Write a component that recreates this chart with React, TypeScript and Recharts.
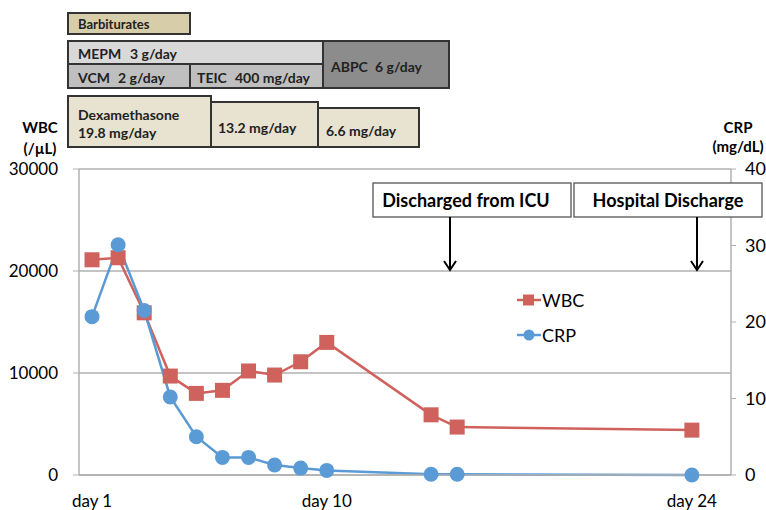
import React from 'react';
import { ComposedChart, Line, XAxis, YAxis, CartesianGrid, Legend } from 'recharts';

const days = [1, 2, 3, 4, 5, 6, 7, 8, 9, 10, 14, 15, 24];
const wbcValues = [21100, 21300, 15900, 9700, 8000, 8300, 10200, 9800, 11100, 13000, 5900, 4700, 4400];
const crpValues = [20.7, 30.1, 21.5, 10.2, 5.0, 2.3, 2.3, 1.3, 0.9, 0.6, 0.1, 0.1, 0.0];
const xTicks = [1, 10, 24];
const wbcTicks = [0, 10000, 20000, 30000];
const crpTicks = [0, 10, 20, 30, 40];
const legendOrder = ['WBC', 'CRP'];

const rows = days.map((d, i) => ({ day: d, WBC: wbcValues[i], CRP: crpValues[i] }));

const RED = '#CF625C';
const BLUE = '#5B9BD5';
const FONT = "Lato, 'Open Sans', sans-serif";
const GRID = '#b0b0b0';

const SquareDot = (props: any) => {
  const { cx, cy } = props;
  if (cx == null || cy == null) return null;
  return <rect x={cx - 7.5} y={cy - 7.5} width={15} height={15} fill={RED} />;
};
const CircleDot = (props: any) => {
  const { cx, cy } = props;
  if (cx == null || cy == null) return null;
  return <circle cx={cx} cy={cy} r={7.5} fill={BLUE} />;
};

const renderLegend = (props: any) => {
  const payload = [...(props.payload || [])].sort(
    (a: any, b: any) => legendOrder.indexOf(a.value) - legendOrder.indexOf(b.value)
  );
  return (
    <div style={{ display: 'flex', flexDirection: 'column', gap: 13 }}>
      {payload.map((p: any) => (
        <div key={p.value} style={{ display: 'flex', alignItems: 'center', height: 22 }}>
          <svg width={24} height={16}>
            <line x1={0} y1={8} x2={24} y2={8} stroke={p.color} strokeWidth={2.5} />
            {p.value === 'WBC' ? (
              <rect x={6} y={2.5} width={11} height={11} fill={p.color} />
            ) : (
              <circle cx={12} cy={8} r={5.5} fill={p.color} />
            )}
          </svg>
          <span style={{ fontFamily: FONT, fontSize: 18, color: '#000', marginLeft: 1 }}>{p.value}</span>
        </div>
      ))}
    </div>
  );
};

const Box = ({ x, y, w, h, fill }: any) => (
  <rect x={x} y={y} width={w} height={h} fill={fill} stroke="#333" strokeWidth={2} />
);
const T = ({ x, y, children, size = 14 }: any) => (
  <text x={x} y={y} fontFamily={FONT} fontWeight={700} fontSize={size} fill="#222" dominantBaseline="central">
    {children}
  </text>
);
const Arrow = ({ x, y1, y2 }: any) => (
  <g stroke="#000" strokeWidth={2} fill="none">
    <line x1={x} y1={y1} x2={x} y2={y2} />
    <polyline points={`${x - 6},${y2 - 9} ${x},${y2} ${x + 6},${y2 - 9}`} />
  </g>
);

export default function App() {
  return (
    <div style={{ position: 'absolute', left: 0, top: 0, width: 766, height: 510, background: '#fff' }}>
      <div style={{ position: 'absolute', left: 0, top: 0 }}>
        <ComposedChart width={766} height={510} data={rows} margin={{ top: 169, right: 0, bottom: 0, left: 0 }}>
          <CartesianGrid yAxisId="l" vertical={false} stroke={GRID} strokeWidth={1.3} />
          <XAxis
            dataKey="day"
            type="number"
            domain={[0.5, 25.5]}
            ticks={xTicks}
            interval={0}
            tickFormatter={(d: number) => `day ${d}`}
            height={35}
            tickLine={false}
            tickMargin={14}
            axisLine={{ stroke: GRID, strokeWidth: 1.5 }}
            tick={{ fontSize: 17, fill: '#000', fontFamily: FONT }}
          />
          <YAxis
            yAxisId="l"
            orientation="left"
            width={79}
            domain={[0, 30000]}
            ticks={wbcTicks}
            interval={0}
            tickSize={6}
            tickMargin={15}
            tickLine={{ stroke: GRID }}
            axisLine={{ stroke: GRID, strokeWidth: 1.5 }}
            tick={{ fontSize: 17, fill: '#000', fontFamily: FONT }}
          />
          <YAxis
            yAxisId="r"
            orientation="right"
            width={35}
            domain={[0, 40]}
            ticks={crpTicks}
            interval={0}
            tickSize={5}
            tickMargin={9}
            tickLine={{ stroke: GRID }}
            axisLine={{ stroke: GRID, strokeWidth: 1.5 }}
            tick={{ fontSize: 18, fill: '#000', fontFamily: FONT, textAnchor: 'start' }}
          />
          <Legend
            layout="vertical"
            align="center"
            verticalAlign="middle"
            content={renderLegend}
            wrapperStyle={{ left: 517, top: 289, width: 110 }}
          />
          <Line
            yAxisId="l"
            dataKey="WBC"
            stroke={RED}
            strokeWidth={2.5}
            dot={<SquareDot />}
            activeDot={false}
            isAnimationActive={false}
          />
          <Line
            yAxisId="r"
            dataKey="CRP"
            stroke={BLUE}
            strokeWidth={2.5}
            dot={<CircleDot />}
            activeDot={false}
            isAnimationActive={false}
          />
        </ComposedChart>
      </div>
      <svg
        width={766}
        height={510}
        style={{ position: 'absolute', left: 0, top: 0, pointerEvents: 'none' }}
      >
        <Box x={68} y={13} w={122} h={21} fill="#D7CDA9" />
        <T x={78} y={24} size={13}>Barbiturates</T>

        <Box x={68} y={41} w={255} h={23} fill="#D9D9D9" />
        <Box x={68} y={64} w={122} h={24} fill="#BFBFBF" />
        <Box x={190} y={64} w={133} h={24} fill="#BFBFBF" />
        <Box x={323} y={41} w={126} h={47} fill="#8C8C8C" />
        <T x={78} y={53}>MEPM</T>
        <T x={130} y={53}>3 g/day</T>
        <T x={78} y={77}>VCM</T>
        <T x={118} y={77}>2 g/day</T>
        <T x={197} y={77}>TEIC</T>
        <T x={235} y={77}>400 mg/day</T>
        <T x={331} y={66}>ABPC</T>
        <T x={375} y={66}>6 g/day</T>

        <Box x={68} y={96} w={143} h={51} fill="#E8E3D0" />
        <Box x={211} y={102} w={107} h={45} fill="#E8E3D0" />
        <Box x={318} y={108} w={101} h={39} fill="#E8E3D0" />
        <T x={78} y={114}>Dexamethasone</T>
        <T x={78} y={132}>19.8 mg/day</T>
        <T x={218} y={127}>13.2 mg/day</T>
        <T x={326} y={130}>6.6 mg/day</T>

        <text x={40} y={127} textAnchor="middle" dominantBaseline="central" fontFamily={FONT} fontWeight={700} fontSize={15} fill="#000">WBC</text>
        <text x={40} y={148} textAnchor="middle" dominantBaseline="central" fontFamily={FONT} fontWeight={700} fontSize={15} fill="#000">(/µL)</text>
        <text x={738} y={127} textAnchor="middle" dominantBaseline="central" fontFamily={FONT} fontWeight={700} fontSize={15} fill="#000">CRP</text>
        <text x={738} y={146} textAnchor="middle" dominantBaseline="central" fontFamily={FONT} fontWeight={700} fontSize={15} fill="#000">(mg/dL)</text>

        <rect x={373} y={183} width={198} height={34} fill="#fff" stroke="#555" strokeWidth={1.3} />
        <text x={466} y={200} textAnchor="middle" dominantBaseline="central" fontFamily={FONT} fontWeight={700} fontSize={18} fill="#000">Discharged from ICU</text>
        <rect x={574} y={183} width={188} height={34} fill="#fff" stroke="#555" strokeWidth={1.3} />
        <text x={668} y={200} textAnchor="middle" dominantBaseline="central" fontFamily={FONT} fontWeight={700} fontSize={18} fill="#000">Hospital Discharge</text>
        <Arrow x={450} y1={217} y2={270} />
        <Arrow x={697} y1={217} y2={270} />
      </svg>
    </div>
  );
}
